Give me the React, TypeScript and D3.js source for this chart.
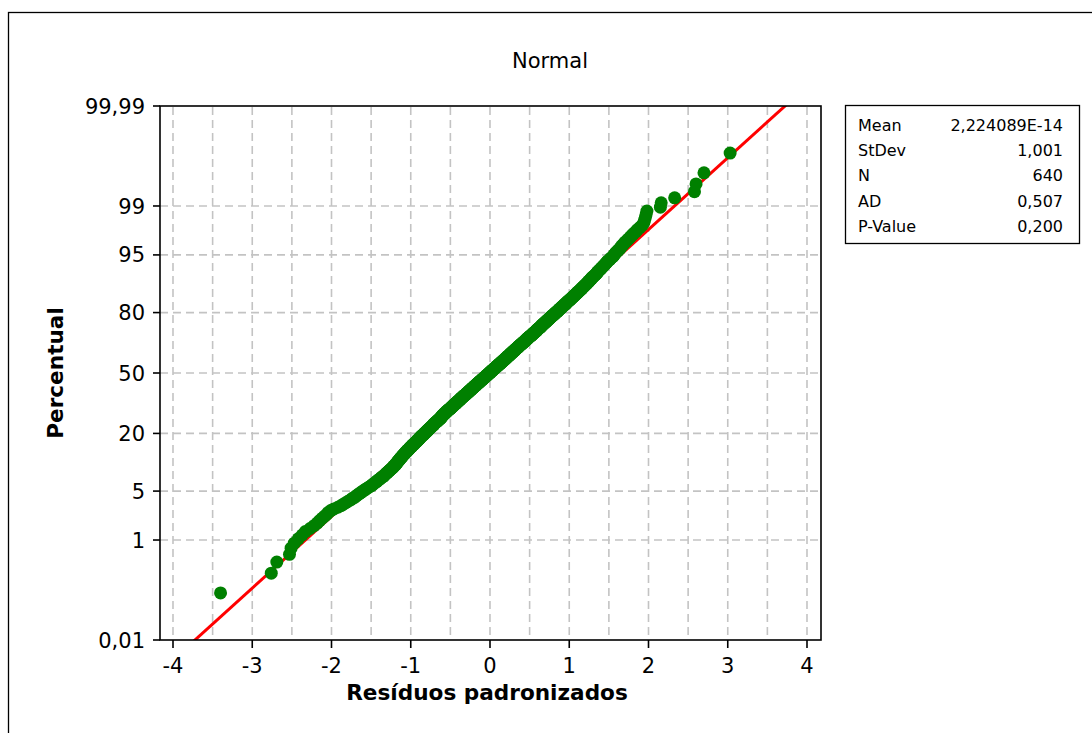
import React from "react";
import * as d3 from "d3";

// ---- Data (sorted standardized residuals) ----
const residuals: number[] = [
  -3.40, -2.76, -2.69, -2.53, -2.51,
  -2.47, -2.42, -2.37, -2.33, -2.27, -2.22,
  -2.18, -2.15, -2.12, -2.09, -2.06, -2.04, -2.01,
  -1.97, -1.92, -1.88, -1.85, -1.82,
  -1.79, -1.76, -1.74, -1.71, -1.69, -1.67, -1.65, -1.63, -1.61,
  -1.59, -1.57, -1.55, -1.53, -1.51,
  -1.49, -1.48, -1.46, -1.45, -1.43, -1.42, -1.41,
  -1.39, -1.38, -1.37, -1.35, -1.34, -1.33, -1.32, -1.31,
  -1.30, -1.29, -1.28, -1.27, -1.26, -1.25, -1.24, -1.23, -1.22, -1.22, -1.21,
  -1.20, -1.19, -1.19, -1.18, -1.17, -1.17, -1.16, -1.16, -1.15, -1.14, -1.14, -1.13, -1.13, -1.12, -1.11, -1.11,
  -1.10, -1.10, -1.09, -1.08, -1.08, -1.07, -1.07, -1.06, -1.05, -1.05, -1.04, -1.04, -1.03, -1.02, -1.02, -1.01, -1.01,
  -1.00, -0.99, -0.99, -0.98, -0.98, -0.97, -0.96, -0.96, -0.95, -0.95, -0.94, -0.93, -0.93, -0.92, -0.92, -0.91, -0.91,
  -0.90, -0.90, -0.89, -0.89, -0.88, -0.88, -0.87, -0.87, -0.86, -0.86, -0.85, -0.84, -0.84, -0.83, -0.83, -0.82, -0.82, -0.81, -0.81,
  -0.80, -0.80, -0.79, -0.79, -0.78, -0.78, -0.77, -0.77, -0.76, -0.76, -0.75, -0.75, -0.74, -0.74, -0.73, -0.73, -0.72, -0.72, -0.71, -0.71, -0.71,
  -0.70, -0.70, -0.69, -0.69, -0.68, -0.68, -0.67, -0.67, -0.66, -0.66, -0.65, -0.65, -0.64, -0.64, -0.63, -0.63, -0.62, -0.62, -0.62, -0.61, -0.61, -0.61,
  -0.60, -0.60, -0.60, -0.59, -0.59, -0.58, -0.58, -0.57, -0.57, -0.57, -0.56, -0.56, -0.55, -0.55, -0.54, -0.54, -0.54, -0.53, -0.53, -0.52, -0.52, -0.51, -0.51,
  -0.50, -0.50, -0.49, -0.49, -0.49, -0.48, -0.48, -0.47, -0.47, -0.46, -0.46, -0.46, -0.45, -0.45, -0.44, -0.44, -0.43, -0.43, -0.43, -0.42, -0.42, -0.41, -0.41,
  -0.40, -0.40, -0.40, -0.39, -0.39, -0.38, -0.38, -0.38, -0.37, -0.37, -0.36, -0.36, -0.36, -0.35, -0.35, -0.34, -0.34, -0.34, -0.33, -0.33, -0.32, -0.32, -0.31, -0.31,
  -0.30, -0.30, -0.30, -0.29, -0.29, -0.28, -0.28, -0.28, -0.27, -0.27, -0.26, -0.26, -0.26, -0.25, -0.25, -0.24, -0.24, -0.24, -0.23, -0.23, -0.22, -0.22, -0.22, -0.21, -0.21,
  -0.20, -0.20, -0.20, -0.19, -0.19, -0.18, -0.18, -0.18, -0.17, -0.17, -0.16, -0.16, -0.16, -0.15, -0.15, -0.14, -0.14, -0.14, -0.13, -0.13, -0.12, -0.12, -0.12, -0.11, -0.11,
  -0.10, -0.10, -0.10, -0.09, -0.09, -0.08, -0.08, -0.08, -0.07, -0.07, -0.06, -0.06, -0.06, -0.05, -0.05, -0.04, -0.04, -0.04, -0.03, -0.03, -0.02, -0.02, -0.02, -0.01, -0.01,
  0.00, 0.00, 0.00, 0.01, 0.01, 0.01, 0.02, 0.02, 0.03, 0.03, 0.03, 0.04, 0.04, 0.05, 0.05, 0.05, 0.06, 0.06, 0.07, 0.07, 0.07, 0.08, 0.08, 0.09, 0.09, 0.09,
  0.10, 0.10, 0.11, 0.11, 0.11, 0.12, 0.12, 0.13, 0.13, 0.13, 0.14, 0.14, 0.15, 0.15, 0.15, 0.16, 0.16, 0.17, 0.17, 0.17, 0.18, 0.18, 0.19, 0.19, 0.19,
  0.20, 0.20, 0.21, 0.21, 0.21, 0.22, 0.22, 0.23, 0.23, 0.23, 0.24, 0.24, 0.25, 0.25, 0.25, 0.26, 0.26, 0.27, 0.27, 0.27, 0.28, 0.28, 0.29, 0.29, 0.29,
  0.30, 0.30, 0.31, 0.31, 0.31, 0.32, 0.32, 0.33, 0.33, 0.33, 0.34, 0.34, 0.35, 0.35, 0.36, 0.36, 0.36, 0.37, 0.37, 0.38, 0.38, 0.38, 0.39, 0.39,
  0.40, 0.40, 0.41, 0.41, 0.42, 0.42, 0.42, 0.43, 0.43, 0.44, 0.44, 0.45, 0.45, 0.45, 0.46, 0.46, 0.47, 0.47, 0.48, 0.48, 0.48, 0.49, 0.49,
  0.50, 0.50, 0.51, 0.51, 0.52, 0.52, 0.53, 0.53, 0.54, 0.54, 0.54, 0.55, 0.55, 0.56, 0.56, 0.57, 0.57, 0.58, 0.58, 0.59, 0.59, 0.59,
  0.60, 0.60, 0.61, 0.61, 0.62, 0.62, 0.63, 0.63, 0.64, 0.64, 0.65, 0.65, 0.65, 0.66, 0.66, 0.67, 0.67, 0.68, 0.68, 0.69, 0.69,
  0.70, 0.70, 0.71, 0.71, 0.72, 0.72, 0.73, 0.73, 0.74, 0.74, 0.75, 0.75, 0.76, 0.76, 0.77, 0.77, 0.78, 0.78, 0.79,
  0.80, 0.80, 0.81, 0.81, 0.82, 0.82, 0.83, 0.83, 0.84, 0.85, 0.85, 0.86, 0.86, 0.87, 0.87, 0.88, 0.88, 0.89,
  0.90, 0.90, 0.91, 0.91, 0.92, 0.93, 0.93, 0.94, 0.94, 0.95, 0.96, 0.96, 0.97, 0.97, 0.98, 0.99, 0.99,
  1.00, 1.01, 1.01, 1.02, 1.03, 1.03, 1.04, 1.05, 1.05, 1.06, 1.07, 1.07, 1.08, 1.09, 1.09,
  1.10, 1.11, 1.11, 1.12, 1.13, 1.14, 1.14, 1.15, 1.16, 1.16, 1.17, 1.18, 1.19, 1.19,
  1.20, 1.21, 1.22, 1.22, 1.23, 1.24, 1.25, 1.25, 1.26, 1.27, 1.28, 1.28, 1.29,
  1.30, 1.31, 1.32, 1.33, 1.34, 1.35, 1.35, 1.36, 1.37, 1.38, 1.39,
  1.40, 1.41, 1.42, 1.43, 1.44, 1.45, 1.46, 1.47, 1.48, 1.49,
  1.51, 1.52, 1.53, 1.55, 1.56, 1.57, 1.58, 1.59,
  1.61, 1.62, 1.64, 1.65, 1.66, 1.68, 1.69,
  1.71, 1.73, 1.75, 1.77, 1.79,
  1.81, 1.84, 1.86, 1.89,
  1.92, 1.94, 1.95, 1.96, 1.97, 1.98,
  2.15, 2.16, 2.33, 2.58, 2.60, 2.70, 3.03,
];

const fitMean = 2.224089e-14;
const fitStDev = 1.001;

const xTicks = [-4, -3, -2, -1, 0, 1, 2, 3, 4];
const xGrid = [-4, -3.5, -3, -2.5, -2, -1.5, -1, -0.5, 0, 0.5, 1, 1.5, 2, 2.5, 3, 3.5, 4];
const yTickPercents = [0.01, 1, 5, 20, 50, 80, 95, 99, 99.99];
const yTickLabels = ["0,01", "1", "5", "20", "50", "80", "95", "99", "99,99"];
const legendLabels = ["Mean", "StDev", "N", "AD", "P-Value"];
const legendValues = ["2,224089E-14", "1,001", "640", "0,507", "0,200"];

const chartTitle = "Normal";
const xTitle = "Resíduos padronizados";
const yTitle = "Percentual";

// inverse standard normal CDF (Acklam)
function qnorm(p: number): number {
  const a = [-3.969683028665376e1, 2.209460984245205e2, -2.759285104469687e2, 1.38357751867269e2, -3.066479806614716e1, 2.506628277459239];
  const b = [-5.447609879822406e1, 1.615858368580409e2, -1.556989798598866e2, 6.680131188771972e1, -1.328068155288572e1];
  const c = [-7.784894002430293e-3, -3.223964580411365e-1, -2.400758277161838, -2.549732539343734, 4.374664141464968, 2.938163982698783];
  const d = [7.784695709041462e-3, 3.224671290700398e-1, 2.445134137142996, 3.754408661907416];
  const pl = 0.02425;
  if (p < pl) {
    const q = Math.sqrt(-2 * Math.log(p));
    return (((((c[0] * q + c[1]) * q + c[2]) * q + c[3]) * q + c[4]) * q + c[5]) / ((((d[0] * q + d[1]) * q + d[2]) * q + d[3]) * q + 1);
  }
  if (p <= 1 - pl) {
    const q = p - 0.5;
    const r = q * q;
    return ((((((a[0] * r + a[1]) * r + a[2]) * r + a[3]) * r + a[4]) * r + a[5]) * q) / (((((b[0] * r + b[1]) * r + b[2]) * r + b[3]) * r + b[4]) * r + 1);
  }
  const q = Math.sqrt(-2 * Math.log(1 - p));
  return -(((((c[0] * q + c[1]) * q + c[2]) * q + c[3]) * q + c[4]) * q + c[5]) / ((((d[0] * q + d[1]) * q + d[2]) * q + d[3]) * q + 1);
}

const FONT = "'DejaVu Sans', Verdana, sans-serif";

export default function App() {
  const W = 1092, H = 733;
  const plot = { left: 160, right: 821, top: 106, bottom: 640 };
  const x = d3.scaleLinear().domain([-4, 4]).range([173, 807]);
  const zMin = qnorm(0.0001), zMax = qnorm(0.9999);
  const y = d3.scaleLinear().domain([zMin, zMax]).range([plot.bottom, plot.top]);
  const n = residuals.length;
  const pts = residuals.map((v, i) => ({ v, z: qnorm((i + 1 - 0.3) / (n + 0.4)) }));
  const fitLine = d3.line<number>()
    .x((z) => x(fitMean + fitStDev * z))
    .y((z) => y(z));
  const gridColor = "#c3c3c3";
  const legend = { x: 845.5, y: 105.5, w: 234, h: 138 };

  return (
    <svg width={W} height={H} style={{ position: "absolute", left: 0, top: 0, background: "#fff" }} fontFamily={FONT}>
      <defs>
        <clipPath id="plotClip">
          <rect x={plot.left} y={plot.top} width={plot.right - plot.left} height={plot.bottom - plot.top} />
        </clipPath>
      </defs>
      <rect x={0} y={0} width={W} height={H} fill="#fff" />
      <rect x={8.5} y={12.5} width={1200} height={900} fill="none" stroke="#000" strokeWidth={1.3} />

      <text x={550} y={68} textAnchor="middle" fontSize={21} fill="#000">{chartTitle}</text>

      {/* grid */}
      <g stroke={gridColor} strokeWidth={1.6} strokeDasharray="8,5">
        {xGrid.map((g) => (
          <line key={"vx" + g} x1={x(g)} x2={x(g)} y1={plot.top + 1} y2={plot.bottom} />
        ))}
        {yTickPercents.slice(1, -1).map((p) => (
          <line key={"hy" + p} x1={plot.left} x2={plot.right} y1={y(qnorm(p / 100))} y2={y(qnorm(p / 100))} />
        ))}
      </g>

      {/* fit line and points */}
      <g clipPath="url(#plotClip)">
        <path d={fitLine([zMin - 0.2, zMax + 0.2]) || ""} stroke="#ff0000" strokeWidth={3} fill="none" />
        {pts.map((p, i) => (
          <circle key={i} cx={x(p.v)} cy={y(p.z)} r={6.5} fill="#008000" />
        ))}
      </g>

      {/* frame */}
      <rect x={plot.left} y={plot.top} width={plot.right - plot.left} height={plot.bottom - plot.top} fill="none" stroke="#000" strokeWidth={1.6} />

      {/* x ticks */}
      {xTicks.map((t) => (
        <g key={"xt" + t}>
          <line x1={x(t)} x2={x(t)} y1={plot.bottom} y2={plot.bottom + 8} stroke="#000" strokeWidth={1.6} />
          <text x={x(t)} y={673} textAnchor="middle" fontSize={21} fill="#000">{t < 0 ? "-" + Math.abs(t) : String(t)}</text>
        </g>
      ))}
      {/* y ticks */}
      {yTickPercents.map((p, i) => {
        const yy = y(qnorm(p / 100));
        return (
          <g key={"yt" + p}>
            <line x1={plot.left - 7} x2={plot.left} y1={yy} y2={yy} stroke="#000" strokeWidth={1.6} />
            <text x={145} y={yy} dy="0.36em" textAnchor="end" fontSize={21} fill="#000">{yTickLabels[i]}</text>
          </g>
        );
      })}

      <text x={487} y={700} textAnchor="middle" fontSize={21.6} fontWeight="bold" fill="#000">{xTitle}</text>
      <text transform={`translate(63,373) rotate(-90)`} textAnchor="middle" fontSize={21.6} fontWeight="bold" fill="#000">{yTitle}</text>

      {/* legend box */}
      <rect x={legend.x} y={legend.y} width={legend.w} height={legend.h} fill="#fff" stroke="#000" strokeWidth={1.3} />
      {legendLabels.map((lab, i) => (
        <g key={lab}>
          <text x={858} y={131 + i * 25.2} fontSize={16} fill="#000">{lab}</text>
          <text x={1063} y={131 + i * 25.2} textAnchor="end" fontSize={16} fill="#000">{legendValues[i]}</text>
        </g>
      ))}
    </svg>
  );
}
